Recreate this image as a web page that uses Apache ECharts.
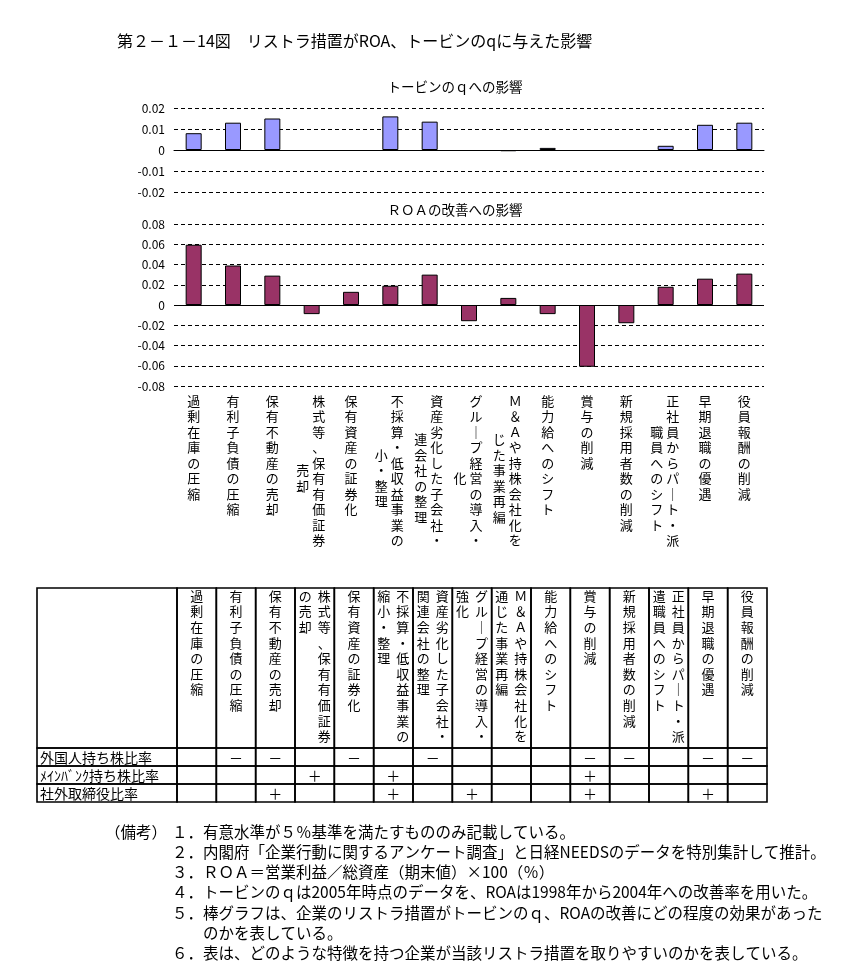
<!DOCTYPE html>
<html><head><meta charset="utf-8">
<script src="https://cdn.jsdelivr.net/npm/echarts@6/dist/echarts.min.js"></script>
<style>html,body{margin:0;padding:0;background:#fff}#c{width:857px;height:970px}</style>
</head><body><div id="c"></div>
<script>
// ---------- data ----------
const categories = ['過剰在庫の圧縮','有利子負債の圧縮','保有不動産の売却','株式等、保有有価証券の売却','保有資産の証券化','不採算・低収益事業の縮小・整理','資産劣化した子会社・関連会社の整理','グループ経営の導入・強化','Ｍ＆Ａや持株会社化を通じた事業再編','能力給へのシフト','賞与の削減','新規採用者数の削減','正社員からパート・派遣職員へのシフト','早期退職の優遇','役員報酬の削減'];
const tobinQ = [0.008, 0.013, 0.015, null, null, 0.016, 0.0135, null, -0.0006, 0.001, null, null, 0.002, 0.012, 0.013];
const roa = [0.0595, 0.039, 0.029, -0.009, 0.013, 0.019, 0.030, -0.016, 0.007, -0.009, -0.061, -0.018, 0.018, 0.026, 0.031];
const tableRows = ['外国人持ち株比率','ﾒｲﾝﾊﾞﾝｸ持ち株比率','社外取締役比率'];
const foreignOwnership = ['', '－', '－', '', '－', '', '－', '', '', '', '－', '－', '', '－', '－'];
const mainBankOwnership = ['', '', '', '＋', '', '＋', '', '', '', '', '＋', '', '', '', ''];
const outsideDirectors = ['', '', '＋', '', '', '＋', '', '＋', '', '', '＋', '', '', '＋', ''];
const tableValues = [foreignOwnership, mainBankOwnership, outsideDirectors];
const mainTitle = '第２－１－14図　リストラ措置がROA、トービンのqに与えた影響';
const tobinTitle = 'トービンのｑへの影響';
const roaTitle = 'ＲＯＡの改善への影響';
const noteHead = '（備考）';
const notes = [
  '１．有意水準が５％基準を満たすもののみ記載している。',
  '２．内閣府「企業行動に関するアンケート調査」と日経NEEDSのデータを特別集計して推計。',
  '３．ＲＯＡ＝営業利益／総資産（期末値）×100（％）',
  '４．トービンのｑは2005年時点のデータを、ROAは1998年から2004年への改善率を用いた。',
  '５．棒グラフは、企業のリストラ措置がトービンのｑ、ROAの改善にどの程度の効果があった',
  '　　のかを表している。',
  '６．表は、どのような特徴を持つ企業が当該リストラ措置を取りやすいのかを表している。'
];

// ---------- layout ----------
const FONT = '"Noto Sans CJK JP", "Noto Sans", sans-serif';
const WRAP = 10;
const LH = 15.5;
const vert = s => Array.from(s).map(ch => ch === 'ー' ? '｜' : ch);
const colA = s => Array.from(s).slice(0, WRAP).join('');
const colB = s => Array.from(s).slice(WRAP).join('');
const colBChart = s => Array.from(s).slice(WRAP + 1).join('');

const rich = {
  c: {fontSize: 13, lineHeight: LH, fontFamily: FONT, color: '#000'},
  r: {fontSize: 13, lineHeight: LH, fontFamily: FONT, color: '#000', padding: [0, 0, 0, 14]},
  l: {fontSize: 13, lineHeight: LH, fontFamily: FONT, color: '#000', padding: [0, 18, 0, 0]}
};
categories.forEach((s, i) => {
  const b = colBChart(s);
  if (b) {
    const off = (Array.from(colA(s)).length - Array.from(b).length) / 2 + 0.5;
    rich['s' + i] = {fontSize: 1, lineHeight: off * LH};
  }
});

function rightLabel(v, i) {
  const s = categories[i];
  const style = colB(s) ? 'r' : 'c';
  return vert(colA(s)).map(ch => `{${style}|${ch}}`).join('\n');
}
function leftLabel(v, i) {
  const b = colBChart(categories[i]);
  if (!b) return '';
  return `{s${i}|　}\n` + vert(b).map(ch => `{l|${ch}}`).join('\n');
}

const yLabel = {fontSize: 12, color: '#000', margin: 9, fontFamily: FONT, formatter: v => String(+v.toFixed(2))};
const dashed = {show: true, lineStyle: {color: '#000', type: [4, 3], width: 1}};

// table geometry in axis units
const COLW = 590 / 15;
const LABEL_UNITS = 140 / COLW;
const HEADER_UNITS = 160 / 18;
const cells = [];
cells.push({kind: 'corner'});
categories.forEach((s, c) => cells.push({kind: 'header', c}));
tableRows.forEach((name, r) => {
  cells.push({kind: 'rowLabel', r});
  categories.forEach((s, c) => cells.push({kind: 'body', r, c}));
});

function renderCell(params, api) {
  const cell = cells[params.dataIndex];
  let x0, x1, y0, y1;
  if (cell.kind === 'corner') { x0 = -LABEL_UNITS; x1 = 0; y0 = 0; y1 = HEADER_UNITS; }
  else if (cell.kind === 'header') { x0 = cell.c; x1 = cell.c + 1; y0 = 0; y1 = HEADER_UNITS; }
  else if (cell.kind === 'rowLabel') { x0 = -LABEL_UNITS; x1 = 0; y0 = HEADER_UNITS + cell.r; y1 = y0 + 1; }
  else { x0 = cell.c; x1 = cell.c + 1; y0 = HEADER_UNITS + cell.r; y1 = y0 + 1; }
  const p0 = api.coord([x0, y0]), p1 = api.coord([x1, y1]);
  const children = [{
    type: 'rect',
    shape: {x: p0[0], y: p0[1], width: p1[0] - p0[0], height: p1[1] - p0[1]},
    style: {fill: 'none', stroke: '#000', lineWidth: 1.6}
  }];
  const cx = (p0[0] + p1[0]) / 2, cy = (p0[1] + p1[1]) / 2;
  const txt = (text, x, y, align, valign, size) => ({
    type: 'text', x, y,
    style: {text, fill: '#000', fontSize: size, fontFamily: FONT, lineHeight: LH + 0.1, align, verticalAlign: valign}
  });
  if (cell.kind === 'header') {
    const s = categories[cell.c];
    const a = colA(s), b = colB(s);
    if (b) {
      children.push(txt(vert(a).join('\n'), cx + 9.5, p0[1] + 0, 'center', 'top', 13));
      children.push(txt(vert(b).join('\n'), cx - 9.5, p0[1] + 0, 'center', 'top', 13));
    } else {
      children.push(txt(vert(a).join('\n'), cx, p0[1] + 0, 'center', 'top', 13));
    }
  } else if (cell.kind === 'rowLabel') {
    children.push(txt(tableRows[cell.r], p0[0] + 3, cy + 1, 'left', 'middle', 14));
  } else if (cell.kind === 'body') {
    const v = tableValues[cell.r][cell.c];
    if (v) children.push(txt(v, cx, cy + 1, 'center', 'middle', 14));
  }
  return {type: 'group', children};
}

const chart = echarts.init(document.getElementById('c'), null, {renderer: 'canvas'});
chart.setOption({
  animation: false,
  backgroundColor: '#fff',
  title: [
    {text: mainTitle, left: 117, top: 33, padding: 0, textStyle: {fontSize: 16, fontWeight: 'normal', color: '#000', fontFamily: FONT}},
    {text: tobinTitle, left: 455, top: 80, padding: 0, textAlign: 'center', textStyle: {fontSize: 13.5, fontWeight: 'normal', color: '#000', fontFamily: FONT}},
    {text: roaTitle, left: 455, top: 203, padding: 0, textAlign: 'center', textStyle: {fontSize: 13.5, fontWeight: 'normal', color: '#000', fontFamily: FONT}}
  ],
  grid: [
    {left: 174, right: 93, top: 108, height: 84, outerBoundsMode: 'none'},
    {left: 174, right: 93, top: 224, height: 162, outerBoundsMode: 'none'},
    {left: 37, right: 90, top: 588, height: 214, outerBoundsMode: 'none'}
  ],
  xAxis: [
    {type: 'category', gridIndex: 0, data: categories, axisLine: {onZero: true, lineStyle: {color: '#000', width: 1}}, axisTick: {show: false}, axisLabel: {show: false}, splitLine: {show: false}},
    {type: 'category', gridIndex: 1, data: categories, position: 'bottom', axisLine: {show: false, onZero: false}, axisTick: {show: false}, splitLine: {show: false},
      axisLabel: {interval: 0, margin: 7, formatter: rightLabel, rich, verticalAlign: 'top'}},
    {type: 'category', gridIndex: 1, data: categories, position: 'bottom', axisLine: {show: false, onZero: false}, axisTick: {show: false}, splitLine: {show: false},
      axisLabel: {interval: 0, margin: 7, formatter: leftLabel, rich, verticalAlign: 'top'}},
    {type: 'value', gridIndex: 2, min: -LABEL_UNITS, max: 15, show: false}
  ],
  yAxis: [
    {type: 'value', gridIndex: 0, min: -0.02, max: 0.02, interval: 0.01, axisLine: {show: false}, axisTick: {show: false}, axisLabel: yLabel, splitLine: dashed},
    {type: 'value', gridIndex: 1, min: -0.08, max: 0.08, interval: 0.02, axisLine: {show: false}, axisTick: {show: false}, axisLabel: yLabel, splitLine: dashed},
    {type: 'value', gridIndex: 2, min: 0, max: HEADER_UNITS + tableRows.length, inverse: true, show: false}
  ],
  series: [
    {type: 'bar', xAxisIndex: 0, yAxisIndex: 0, data: tobinQ, barWidth: 16,
      itemStyle: {color: '#9999FF', borderColor: '#000', borderWidth: 1}},
    {type: 'bar', xAxisIndex: 1, yAxisIndex: 1, data: roa, barWidth: 16,
      itemStyle: {color: '#993366', borderColor: '#000', borderWidth: 1},
      markLine: {silent: true, symbol: ['none', 'none'], label: {show: false}, lineStyle: {color: '#000', type: 'solid', width: 1}, data: [{yAxis: 0}]}},
    {type: 'custom', xAxisIndex: 3, yAxisIndex: 2, renderItem: renderCell, clip: false,
      data: cells.map((c, i) => [0, 0]), silent: true}
  ],
  graphic: [
    {type: 'text', x: 105, y: 832, style: {text: noteHead, fontSize: 15.5, fontFamily: FONT, fill: '#000', verticalAlign: 'middle'}},
    ...notes.map((t, i) => ({type: 'text', x: 172, y: 832 + i * 20.2, style: {text: t, fontSize: 15.5, fontFamily: FONT, fill: '#000', verticalAlign: 'middle'}}))
  ]
});
</script></body></html>
